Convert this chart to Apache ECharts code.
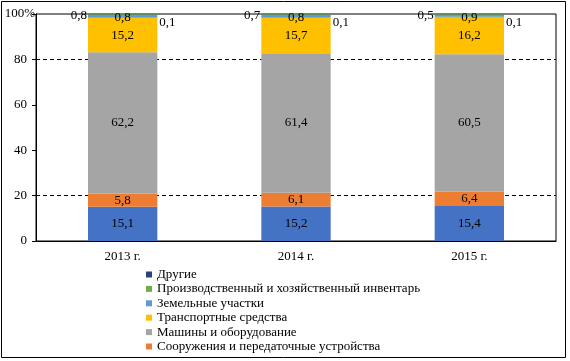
<!DOCTYPE html>
<html><head><meta charset="utf-8">
<script src="https://cdn.jsdelivr.net/npm/echarts@6/dist/echarts.min.js"></script>
<style>html,body{margin:0;padding:0;background:#fff}#c{width:570px;height:361px}</style>
</head><body><div id="c"></div>
<script>
const categories = ['2013 г.', '2014 г.', '2015 г.'];
const buildings = [15.1, 15.2, 15.4];
const structures = [5.8, 6.1, 6.4];
const machines = [62.2, 61.4, 60.5];
const transport = [15.2, 15.7, 16.2];
const land = [0.8, 0.7, 0.5];
const inventory = [0.8, 0.8, 0.9];
const other = [0.1, 0.1, 0.1];
const yTicks = [0, 20, 40, 60, 80, 100];
const gridValues = [20, 80];

const font = 'Liberation Serif';
const fs = 13;
const fmt = p => String(p.value).replace('.', ',');
function mk(name, data, color, label) {
  return {
    name, type: 'bar', stack: 'a', data, barWidth: '40%', z: 3,
    itemStyle: { color },
    label: Object.assign({ show: true, formatter: fmt, fontFamily: font, fontSize: fs, color: '#000' }, label || {})
  };
}
const series = [
  mk('Здания', buildings, '#4472C4', { position: 'inside' }),
  mk('Сооружения и передаточные устройства', structures, '#ED7D31', { position: 'inside' }),
  mk('Машины и оборудование', machines, '#A5A5A5', { position: 'inside' }),
  mk('Транспортные средства', transport, '#FFC000', { position: 'inside' }),
  mk('Земельные участки', land, '#5B9BD5', { position: 'left', distance: 1, offset: [0, -1] }),
  mk('Производственный и хозяйственный инвентарь', inventory, '#70AD47', { position: 'inside', offset: [0, 2] }),
  mk('Другие', other, '#264478', { position: 'right', distance: 2, offset: [0, 8] }),
  {
    name: 'grid', type: 'line', data: [], z: 1, silent: true,
    markLine: {
      silent: true, symbol: 'none', label: { show: false }, z: 1,
      lineStyle: { color: '#000', type: [4, 3], width: 1 },
      data: gridValues.map(v => ({ yAxis: v }))
    }
  }
];

const chart = echarts.init(document.getElementById('c'));
chart.setOption({
  animation: false,
  textStyle: { fontFamily: font },
  grid: { left: 36, right: 14, top: 14, bottom: 120, show: true, borderColor: '#000', borderWidth: 1 },
  xAxis: {
    type: 'category', data: categories,
    axisLine: { lineStyle: { color: '#000' } }, axisTick: { show: false },
    axisLabel: { color: '#000', fontFamily: font, fontSize: fs, margin: 9 }
  },
  yAxis: {
    type: 'value', min: 0, max: 100, interval: 20,
    axisLine: { show: true, lineStyle: { color: '#000' } },
    axisTick: { show: true, length: 4, lineStyle: { color: '#000' } },
    splitLine: { show: false },
    axisLabel: { color: '#000', fontFamily: font, fontSize: fs, margin: 0,
      formatter: v => (v === yTicks[yTicks.length - 1] ? '{b|' + v + '%}' : '{a|' + v + '}'),
      rich: {
        a: { fontFamily: font, fontSize: fs, color: '#000', width: 27, padding: [0, 9, 0, 0], align: 'right' },
        b: { fontFamily: font, fontSize: fs, color: '#000', width: 35, padding: [0, 1, 0, 0], align: 'right' }
      }
    }
  },
  legend: {
    orient: 'vertical', left: 141, top: 263, itemWidth: 6, itemHeight: 6, itemGap: 1.4,
    icon: 'rect',
    textStyle: { fontFamily: font, fontSize: fs, color: '#000', lineHeight: 13 },
    data: ['Другие', 'Производственный и хозяйственный инвентарь', 'Земельные участки',
      'Транспортные средства', 'Машины и оборудование', 'Сооружения и передаточные устройства']
  },
  graphic: [{ type: 'rect', shape: { x: 1.5, y: 1.5, width: 564, height: 356 },
    style: { fill: 'none', stroke: '#000', lineWidth: 1 }, silent: true }],
  series
});
</script></body></html>
